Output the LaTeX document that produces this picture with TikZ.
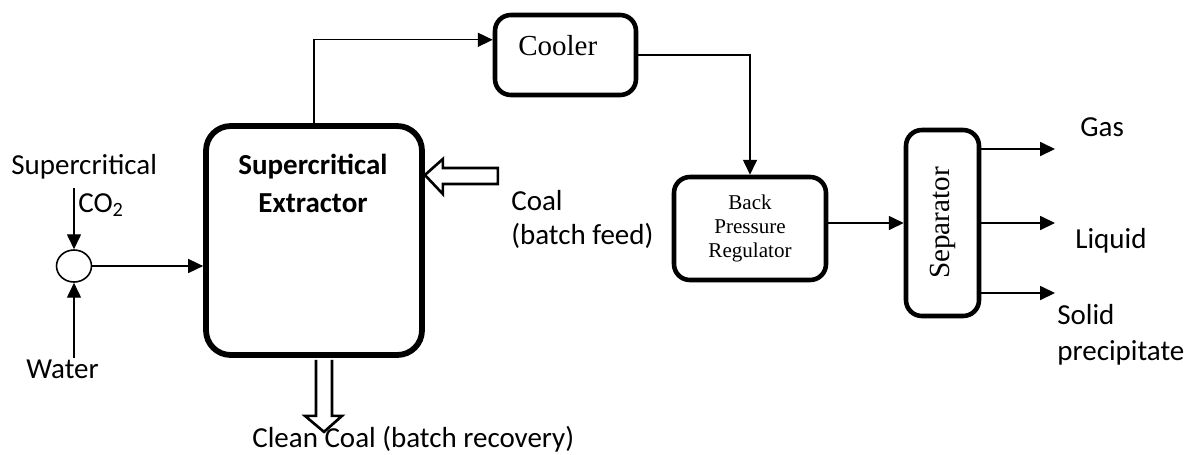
\documentclass[tikz,border=0pt]{standalone}
\usepackage{fontspec}
\setmainfont{Carlito}
\newfontfamily\tms{Liberation Serif}
\usetikzlibrary{arrows.meta,shapes.geometric,calc}

\begin{document}
\begin{tikzpicture}[x=0.02cm,y=-0.02cm,
        box/.style={draw,rounded corners=9pt,line width=2.6pt,inner sep=0pt},
        flow/.style={-{Triangle[length=8.5pt,width=8pt]},line width=0.75pt},
        hollow/.style={line width=1.5pt,fill=white,line join=miter},
        lbl/.style={inner sep=0pt,font=\fontsize{16.5}{20}\selectfont}]
            \useasboundingbox (0,0) rectangle (1186,454);
            % units
            \node[box,line width=3.3pt,rounded corners=14pt,minimum width=4.32cm,minimum height=4.58cm] (extr) at (314,240.5) {};
            \node[box,minimum width=2.82cm,minimum height=1.6cm] (cool) at (565.5,55) {};
            \node[box,minimum width=3.04cm,minimum height=2.06cm,align=center,font=\tms\fontsize{12}{13.7}\selectfont] (bpr) at (750,228.5) {Back\\Pressure\\Regulator};
            \node[box,minimum width=1.46cm,minimum height=3.72cm] (sep) at (942.5,223) {};
            \node[draw,ellipse,line width=0.9pt,minimum width=0.7cm,minimum height=0.64cm,inner sep=0pt] (mix) at (74,266) {};
            % texts
            \node[lbl,font=\bfseries\fontsize{16.5}{20}\selectfont,anchor=base] (extra) at (313,174) {Supercritical};
            \node[lbl,font=\bfseries\fontsize{16.5}{20}\selectfont,anchor=base] (extrb) at (313,212) {Extractor};
            \node[lbl,font=\tms\fontsize{16.5}{20}\selectfont,anchor=base west] (cooltxt) at (518,55) {Cooler};
            \node[rotate=90,inner sep=0pt,font=\tms\fontsize{16.6}{20}\selectfont] (septxt) at (sep) {Separator};
            \node[lbl,anchor=base west] (sc) at (11,174) {Supercritical};
            \node[lbl,anchor=base west] (co2) at (78,212) {CO\textsubscript{2}};
            \node[lbl,anchor=base west] (water) at (26,378) {Water};
            \node[lbl,anchor=base west] (coal) at (511,210) {Coal};
            \node[lbl,anchor=base west] (feed) at (511,244) {(batch feed)};
            \node[lbl,anchor=base west] (clean) at (252,447) {Clean Coal (batch recovery)};
            \node[lbl,anchor=base west] (gas) at (1080,136) {Gas};
            \node[lbl,anchor=base west] (liq) at (1075,248) {Liquid};
            \node[lbl,anchor=base west] (solid) at (1057,324) {Solid};
            \node[lbl,anchor=base west] (prec) at (1057,360) {precipitate};
            % streams
            \coordinate (co2in) at (74,188);
            \coordinate (waterin) at (74,358);
            \coordinate (gasout) at (1055,149);
            \coordinate (liqout) at (1055,223);
            \coordinate (solout) at (1055,293);
            \draw[flow] (co2in) -- (mix.north);
            \draw[flow] (waterin) -- (mix.south);
            \draw[flow] (mix.east) -- (mix.east -| extr.west);
            \draw[flow] (extr.north) |- ($(cool.north west)!0.32!(cool.south west)$);
            \draw[flow] (cool.east) -| (bpr.north);
            \draw[flow] (bpr.east |- sep.west) -- (sep.west);
            \draw[flow] (sep.east |- gasout) -- (gasout);
            \draw[flow] (sep.east |- liqout) -- (liqout);
            \draw[flow] (sep.east |- solout) -- (solout);
            % coal in and out
            \draw[hollow] (extr.east |- 0,175) -- ++(18,-16) -- ++(0,9) -- ++(55,0) -- ++(0,16) -- ++(-55,0) -- ++(0,10) -- cycle;
            \draw[hollow] ($(extr.south)+(2,2)$) -- ++(0,56) -- ++(-11,0) -- ++(19,16) -- ++(18,-16) -- ++(-10,0) -- ++(0,-56);
        \end{tikzpicture}
\end{document}
